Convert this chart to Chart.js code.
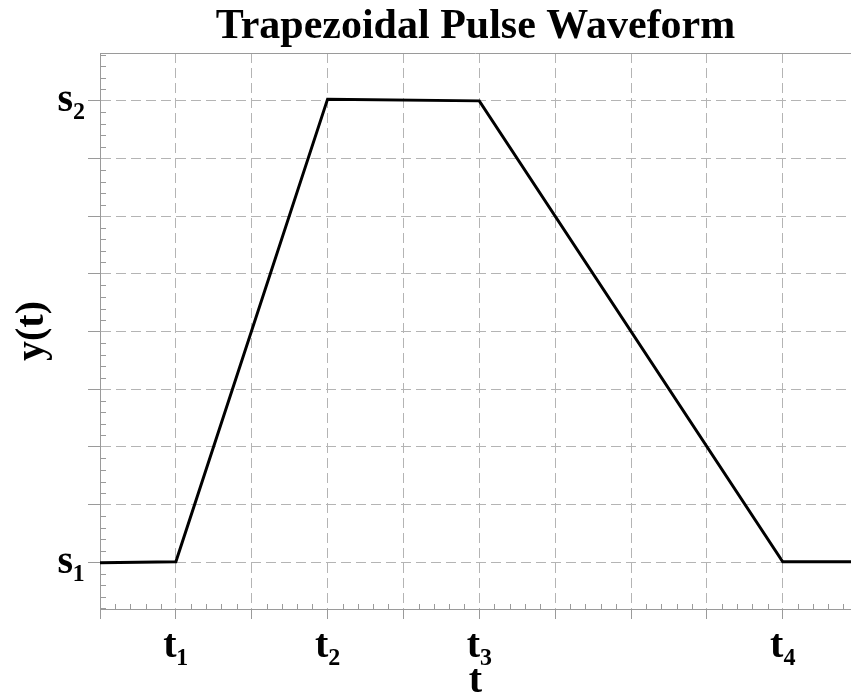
<!DOCTYPE html>
<html>
<head>
<meta charset="utf-8">
<script src="https://cdn.jsdelivr.net/npm/chart.js@4/dist/chart.umd.min.js"></script>
<style>
  html, body { margin: 0; padding: 0; background: #fff; }
  #wrap { width: 851px; height: 694px; }
</style>
</head>
<body>
<div id="wrap"><canvas id="pulse-chart" width="851" height="694"></canvas></div>
<script>
// waveform corners (time, level)
const timeValues = [0, 1, 3, 5, 9, 9.9];
const levelValues = [-0.01, 0.01, 8.03, 8.0, 0.01, 0.01];

// named ticks
const xTickValues = [1, 3, 5, 9];
const xTickLabels = ['t₁', 't₂', 't₃', 't₄'];
const yTickValues = [0, 8];
const yTickLabels = ['s₁', 's₂'];

const xRange = [0, 9.9];
const yRange = [-0.81, 8.83];

const gridGray = '#b4b4b4';
const axisGray = '#9a9a9a';

Chart.defaults.font.family = "'Liberation Serif', 'Times New Roman', serif";
Chart.defaults.color = '#000';

function labelFor(values, labels, v) {
    const i = values.findIndex(x => Math.abs(x - v) < 1e-6);
    return i >= 0 ? labels[i] : '';
}

// --- frame on top + minor ticks inside the axes ---
const minorTicks = {
    id: 'minorTicks',
    beforeDatasetsDraw(chart) {
        const { ctx, chartArea, scales } = chart;
        ctx.save();
        ctx.strokeStyle = axisGray;
        ctx.lineWidth = 1;
        ctx.beginPath();
        ctx.moveTo(chartArea.left, chartArea.top + 0.5);
        ctx.lineTo(chartArea.right, chartArea.top + 0.5);
        for (let v = 0.2; v < xRange[1]; v += 0.2) {
            if (Math.abs(v - Math.round(v)) < 1e-6) continue;
            const px = Math.round(scales.x.getPixelForValue(v)) + 0.5;
            ctx.moveTo(px, chartArea.bottom);
            ctx.lineTo(px, chartArea.bottom - 5);
        }
        for (let v = -0.8; v < yRange[1]; v += 0.2) {
            if (Math.abs(v - Math.round(v)) < 1e-6) continue;
            const py = Math.round(scales.y.getPixelForValue(v)) + 0.5;
            ctx.moveTo(chartArea.left, py);
            ctx.lineTo(chartArea.left + 6, py);
        }
        ctx.stroke();
        ctx.restore();
    }
};

new Chart(document.getElementById('pulse-chart'), {
    type: 'line',
    data: {
        datasets: [{
            data: timeValues.map((t, i) => ({ x: t, y: levelValues[i] })),
            borderColor: '#000',
            borderWidth: 3,
            pointRadius: 0,
            tension: 0,
            fill: false
        }]
    },
    options: {
        responsive: false,
        animation: false,
        layout: { padding: 0 },
        plugins: {
            legend: { display: false },
            tooltip: { enabled: false },
            title: {
                display: true,
                fullSize: false,
                text: 'Trapezoidal Pulse Waveform',
                color: '#000',
                font: { size: 42, weight: 'bold', lineHeight: 1.2 },
                padding: { top: 2, bottom: 0.6 }
            }
        },
        scales: {
            x: {
                type: 'linear',
                min: xRange[0],
                max: xRange[1],
                afterFit: scale => { scale.height = 85; },
                border: { display: true, color: axisGray, width: 1, dash: [10, 5] },
                grid: {
                    color: gridGray,
                    lineWidth: 1,
                    tickLength: 10,
                    tickColor: axisGray,
                    tickBorderDash: []
                },
                ticks: {
                    stepSize: 1,
                    includeBounds: false,
                    autoSkip: false,
                    maxRotation: 0,
                    padding: 4,
                    color: '#000',
                    font: { size: 40, weight: 'bold' },
                    callback: v => labelFor(xTickValues, xTickLabels, v)
                },
                title: {
                    display: true,
                    text: 't',
                    color: '#000',
                    font: { size: 40, weight: 'bold', lineHeight: 0.6 },
                    padding: { top: 0, bottom: 0 }
                }
            },
            y: {
                type: 'linear',
                min: yRange[0],
                max: yRange[1],
                afterFit: scale => { scale.width = 100; },
                border: { display: true, color: axisGray, width: 1, dash: [10, 5] },
                grid: {
                    color: gridGray,
                    lineWidth: 1,
                    tickLength: 12,
                    tickColor: axisGray,
                    tickBorderDash: []
                },
                ticks: {
                    stepSize: 1,
                    includeBounds: false,
                    autoSkip: false,
                    padding: 3,
                    color: '#000',
                    font: { size: 40, weight: 'bold' },
                    callback: v => labelFor(yTickValues, yTickLabels, v)
                },
                title: {
                    display: true,
                    text: 'y(t)',
                    color: '#000',
                    font: { size: 40, weight: 'bold', lineHeight: 1.2 },
                    padding: { top: 9, bottom: 0 }
                }
            }
        }
    },
    plugins: [minorTicks]
});
</script>
</body>
</html>
